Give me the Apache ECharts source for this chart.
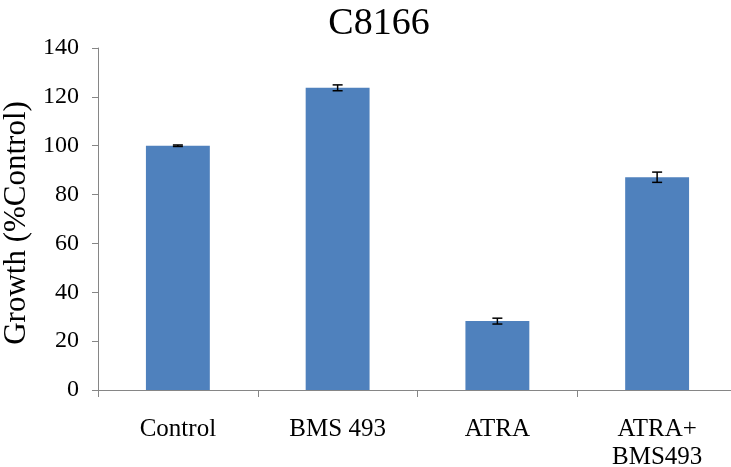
<!DOCTYPE html>
<html>
<head>
<meta charset="utf-8">
<script src="https://cdn.jsdelivr.net/npm/echarts@6/dist/echarts.min.js"></script>
<style>
  html, body { margin: 0; padding: 0; background: #fff; }
  #chart { width: 731px; height: 467px; }
</style>
</head>
<body>
<div id="chart"></div>
<script>
// Growth of C8166 cells under each treatment, as % of control
const categories = ['Control', 'BMS 493', 'ATRA', 'ATRA+\nBMS493'];
const growth = [100, 123.7, 28.2, 87.1];
const errors = [0.3, 1.2, 1.2, 2.1];
const yTicks = { min: 0, max: 140, interval: 20 };

const serif = '"Liberation Serif", "Times New Roman", serif';
const chart = echarts.init(document.getElementById('chart'));

const errorData = growth.map((v, i) => [i, v - errors[i], v + errors[i]]);

chart.setOption({
  animation: false,
  title: {
    text: 'C8166',
    left: 374,
    textAlign: 'center',
    top: 0,
    textStyle: { fontFamily: serif, fontSize: 38, fontWeight: 'normal', color: '#000' }
  },
  // the category axis runs slightly past the right edge of the canvas
  grid: { left: 98, top: 48, bottom: 77, width: 639, outerBoundsMode: 'none', containLabel: false },
  xAxis: {
    type: 'category',
    data: categories,
    axisLine: { lineStyle: { color: '#868686', width: 1 } },
    axisTick: { show: true, length: 7, lineStyle: { color: '#868686' } },
    axisLabel: {
      fontFamily: serif, fontSize: 25, color: '#000', margin: 25, lineHeight: 28
    }
  },
  yAxis: {
    type: 'value',
    min: yTicks.min, max: yTicks.max, interval: yTicks.interval,
    name: 'Growth (%Control)',
    nameLocation: 'middle',
    nameGap: 62,
    nameTextStyle: { fontFamily: serif, fontSize: 31, color: '#000', padding: [0, 8, 0, 0] },
    axisLine: { show: true, lineStyle: { color: '#868686', width: 1 } },
    axisTick: { show: true, length: 6, lineStyle: { color: '#868686' } },
    splitLine: { show: false },
    axisLabel: { fontFamily: serif, fontSize: 24, color: '#000', margin: 19 }
  },
  series: [
    {
      type: 'bar',
      data: growth,
      barWidth: '40%',
      itemStyle: { color: '#4f81bd' }
    },
    {
      type: 'custom',
      data: errorData,
      z: 10,
      renderItem: function (params, api) {
        const x = api.value(0);
        const lo = api.coord([x, api.value(1)]);
        const hi = api.coord([x, api.value(2)]);
        const half = 5;
        const style = { stroke: '#000', lineWidth: 1.5 };
        return {
          type: 'group',
          children: [
            { type: 'line', shape: { x1: lo[0], y1: lo[1], x2: hi[0], y2: hi[1] }, style: style },
            { type: 'line', shape: { x1: lo[0] - half, y1: lo[1], x2: lo[0] + half, y2: lo[1] }, style: style },
            { type: 'line', shape: { x1: hi[0] - half, y1: hi[1], x2: hi[0] + half, y2: hi[1] }, style: style }
          ]
        };
      }
    }
  ]
});
</script>
</body>
</html>
